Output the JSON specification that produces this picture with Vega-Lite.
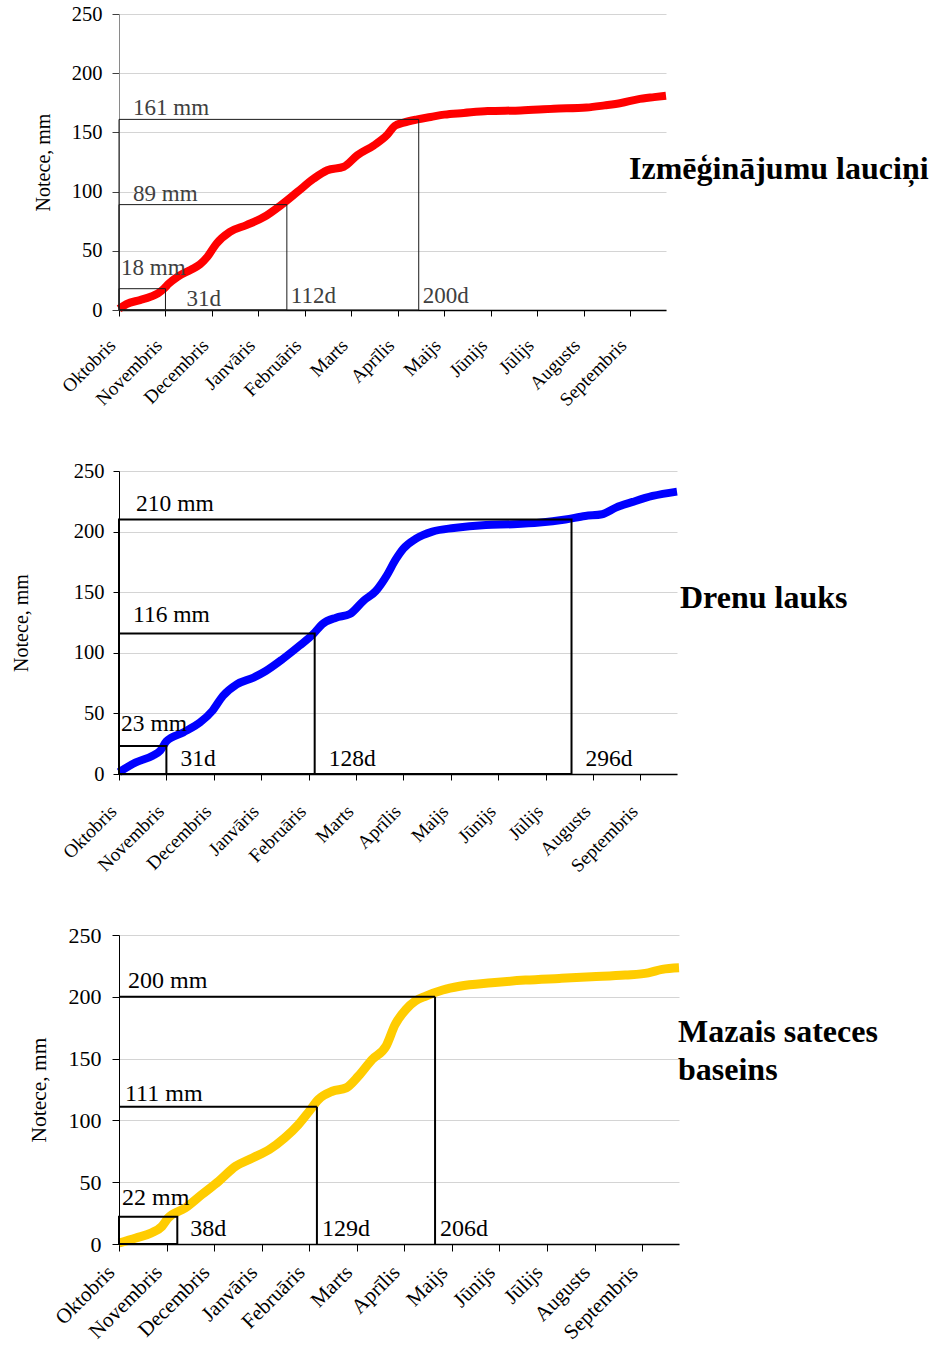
{
  "$schema": "https://vega.github.io/schema/vega-lite/v6.json",
  "background": "white",
  "padding": {"left": 11, "top": 4, "right": 0, "bottom": 0},
  "bounds": "flush",
  "spacing": 161,
  "datasets": {
    "lauc": [
      {"day": 0, "mm": 1}, {"day": 5, "mm": 5}, {"day": 14, "mm": 8.4}, {"day": 21, "mm": 11.2},
      {"day": 26, "mm": 14}, {"day": 30, "mm": 18}, {"day": 33, "mm": 22}, {"day": 39, "mm": 28},
      {"day": 48, "mm": 34}, {"day": 54, "mm": 38.5}, {"day": 59, "mm": 45}, {"day": 65, "mm": 56},
      {"day": 74, "mm": 66}, {"day": 85, "mm": 71.7}, {"day": 97, "mm": 78.7}, {"day": 108, "mm": 88.5},
      {"day": 119, "mm": 99.7}, {"day": 130, "mm": 111}, {"day": 139, "mm": 118}, {"day": 150, "mm": 121},
      {"day": 159, "mm": 130.7}, {"day": 170, "mm": 139}, {"day": 179, "mm": 148}, {"day": 184, "mm": 155.5},
      {"day": 190, "mm": 158.3}, {"day": 199, "mm": 161}, {"day": 208, "mm": 163}, {"day": 217, "mm": 165},
      {"day": 230, "mm": 166.4}, {"day": 246, "mm": 168}, {"day": 268, "mm": 168.6}, {"day": 290, "mm": 170},
      {"day": 312, "mm": 171}, {"day": 324, "mm": 172.8}, {"day": 335, "mm": 174.8}, {"day": 346, "mm": 177.9},
      {"day": 357, "mm": 179.8}, {"day": 365, "mm": 181}
    ],
    "dren": [
      {"day": 0, "mm": 1.5}, {"day": 11, "mm": 9.6}, {"day": 22, "mm": 15.1}, {"day": 27, "mm": 19.2},
      {"day": 31, "mm": 27}, {"day": 42, "mm": 34.3}, {"day": 53, "mm": 42.5}, {"day": 61, "mm": 52},
      {"day": 68, "mm": 64.5}, {"day": 77, "mm": 74}, {"day": 88, "mm": 79.6}, {"day": 96, "mm": 85},
      {"day": 107, "mm": 94.8}, {"day": 118, "mm": 105.8}, {"day": 127, "mm": 115.4}, {"day": 133, "mm": 123.7},
      {"day": 142, "mm": 129}, {"day": 151, "mm": 132}, {"day": 160, "mm": 143}, {"day": 168, "mm": 151},
      {"day": 175, "mm": 163.5}, {"day": 181, "mm": 177}, {"day": 186, "mm": 186}, {"day": 194, "mm": 194},
      {"day": 205, "mm": 200}, {"day": 219, "mm": 203}, {"day": 240, "mm": 205.5}, {"day": 258, "mm": 206.1},
      {"day": 275, "mm": 207.4}, {"day": 292, "mm": 210}, {"day": 305, "mm": 212.9}, {"day": 316, "mm": 214.3},
      {"day": 325, "mm": 219.8}, {"day": 336, "mm": 224.5}, {"day": 349, "mm": 229.4}, {"day": 365, "mm": 233}
    ],
    "bas": [
      {"day": 0, "mm": 0.8}, {"day": 11, "mm": 4.9}, {"day": 21, "mm": 8.9}, {"day": 28, "mm": 14.3},
      {"day": 32, "mm": 21}, {"day": 43, "mm": 29}, {"day": 54, "mm": 40}, {"day": 65, "mm": 50.8},
      {"day": 76, "mm": 62.9}, {"day": 87, "mm": 69.6}, {"day": 98, "mm": 76.4}, {"day": 108, "mm": 85.8},
      {"day": 117, "mm": 96.7}, {"day": 124, "mm": 107.4}, {"day": 130, "mm": 116.9}, {"day": 139, "mm": 123.6},
      {"day": 148, "mm": 126.3}, {"day": 156, "mm": 135.8}, {"day": 165, "mm": 149.3}, {"day": 174, "mm": 160},
      {"day": 180, "mm": 177.6}, {"day": 187, "mm": 189.8}, {"day": 193, "mm": 196.5}, {"day": 200, "mm": 200.6},
      {"day": 211, "mm": 205.5}, {"day": 222, "mm": 208.5}, {"day": 243, "mm": 211.3}, {"day": 265, "mm": 213.5},
      {"day": 287, "mm": 214.9}, {"day": 308, "mm": 216.2}, {"day": 330, "mm": 217.6}, {"day": 345, "mm": 219.4},
      {"day": 354, "mm": 222.2}, {"day": 365, "mm": 223.5}
    ],
    "laucLimits": [{"mm": 18, "day": 31}, {"mm": 89, "day": 112}, {"mm": 161, "day": 200}],
    "drenLimits": [{"mm": 23, "day": 31}, {"mm": 116, "day": 128}, {"mm": 210, "day": 296}],
    "basLimits": [{"mm": 22, "day": 38}, {"mm": 111, "day": 129}, {"mm": 200, "day": 206}]
  },
  "vconcat": [
    {
      "width": 547,
      "height": 296,
      "layer": [
        {
          "data": {"name": "lauc"},
          "mark": {"type": "line", "color": "#FF0000", "strokeWidth": 8, "interpolate": "monotone"},
          "encoding": {
            "x": {"field": "day", "type": "quantitative", "scale": {"domain": [0, 365], "nice": false},
              "axis": {"values": [0, 31, 62, 93, 124, 155, 186, 217, 248, 279, 310, 341],
                "labelExpr": "['Oktobris','Novembris','Decembris','Janvāris','Februāris','Marts','Aprīlis','Maijs','Jūnijs','Jūlijs','Augusts','Septembris'][round(datum.value/31)]",
                "labelAngle": -45, "labelAlign": "right", "labelBaseline": "middle", "labelFontSize": 19, "labelPadding": 26, "labelOffset": -7,
                "labelOverlap": false, "labelBound": false, "labelFlush": false, "tickSize": 6, "tickColor": "black",
                "domainColor": "black", "domainWidth": 1.5, "grid": false, "title": null}},
            "y": {"field": "mm", "type": "quantitative", "scale": {"domain": [0, 250], "nice": false},
              "axis": {"values": [0, 50, 100, 150, 200, 250], "title": "Notece, mm", "titleFontSize": 20, "titleFontWeight": "normal",
                "titlePadding": 18, "labelFontSize": 20.5, "labelPadding": 10, "tickSize": 7, "tickColor": "#404040",
                "domainColor": "#8a8a8a", "grid": true, "gridColor": "#d4d4d4"}}
          }
        },
        {
          "data": {"name": "laucLimits"},
          "mark": {"type": "rect", "fill": "white", "fillOpacity": 0, "stroke": "#1a1a1a", "strokeWidth": 1},
          "encoding": {"x": {"field": "day", "type": "quantitative"}, "x2": {"datum": 0}, "y": {"field": "mm", "type": "quantitative"}, "y2": {"datum": 0}}
        },
        {
          "data": {"name": "laucLimits"},
          "transform": [{"filter": "datum.mm > 50"}, {"calculate": "datum.mm + ' mm'", "as": "label"}],
          "mark": {"type": "text", "align": "left", "baseline": "alphabetic", "dx": 14, "dy": -4, "fontSize": 23, "color": "#404040"},
          "encoding": {"x": {"datum": 0, "type": "quantitative"}, "y": {"field": "mm", "type": "quantitative"}, "text": {"field": "label", "type": "nominal"}}
        },
        {
          "data": {"name": "laucLimits"},
          "transform": [{"filter": "datum.mm < 50"}, {"calculate": "datum.mm + ' mm'", "as": "label"}],
          "mark": {"type": "text", "align": "left", "baseline": "alphabetic", "dx": 2, "dy": -14, "fontSize": 23, "color": "#404040"},
          "encoding": {"x": {"datum": 0, "type": "quantitative"}, "y": {"field": "mm", "type": "quantitative"}, "text": {"field": "label", "type": "nominal"}}
        },
        {
          "data": {"name": "laucLimits"},
          "transform": [{"filter": "datum.day < 50"}, {"calculate": "datum.day + 'd'", "as": "label"}],
          "mark": {"type": "text", "align": "left", "baseline": "alphabetic", "dx": 21, "dy": -4, "fontSize": 23, "color": "#404040"},
          "encoding": {"x": {"field": "day", "type": "quantitative"}, "y": {"datum": 0, "type": "quantitative"}, "text": {"field": "label", "type": "nominal"}}
        },
        {
          "data": {"name": "laucLimits"},
          "transform": [{"filter": "datum.day > 50"}, {"calculate": "datum.day + 'd'", "as": "label"}],
          "mark": {"type": "text", "align": "left", "baseline": "alphabetic", "dx": 4, "dy": -7, "fontSize": 23, "color": "#404040"},
          "encoding": {"x": {"field": "day", "type": "quantitative"}, "y": {"datum": 0, "type": "quantitative"}, "text": {"field": "label", "type": "nominal"}}
        },
        {
          "data": {"values": [{"name": "Izmēģinājumu lauciņi"}]},
          "mark": {"type": "text", "align": "left", "baseline": "alphabetic", "dx": -37, "dy": 17, "fontSize": 32, "fontWeight": "bold", "color": "black"},
          "encoding": {"x": {"datum": 365, "type": "quantitative"}, "y": {"datum": 125, "type": "quantitative"}, "text": {"field": "name", "type": "nominal"}}
        }
      ]
    },
    {
      "width": 558,
      "height": 303,
      "layer": [
        {
          "data": {"name": "dren"},
          "mark": {"type": "line", "color": "#0000FF", "strokeWidth": 8, "interpolate": "monotone"},
          "encoding": {
            "x": {"field": "day", "type": "quantitative", "scale": {"domain": [0, 365], "nice": false},
              "axis": {"values": [0, 31, 62, 93, 124, 155, 186, 217, 248, 279, 310, 341],
                "labelExpr": "['Oktobris','Novembris','Decembris','Janvāris','Februāris','Marts','Aprīlis','Maijs','Jūnijs','Jūlijs','Augusts','Septembris'][round(datum.value/31)]",
                "labelAngle": -45, "labelAlign": "right", "labelBaseline": "middle", "labelFontSize": 19, "labelPadding": 28, "labelOffset": -6,
                "labelOverlap": false, "labelBound": false, "labelFlush": false, "tickSize": 6, "tickColor": "black",
                "domainColor": "black", "domainWidth": 1.5, "grid": false, "title": null}},
            "y": {"field": "mm", "type": "quantitative", "scale": {"domain": [0, 250], "nice": false},
              "axis": {"values": [0, 50, 100, 150, 200, 250], "title": "Notece, mm", "titleFontSize": 20, "titleFontWeight": "normal",
                "titlePadding": 42, "labelFontSize": 20.5, "labelPadding": 9, "tickSize": 6, "tickColor": "black",
                "domainColor": "black", "grid": true, "gridColor": "#d4d4d4"}}
          }
        },
        {
          "data": {"name": "drenLimits"},
          "mark": {"type": "rect", "fill": "white", "fillOpacity": 0, "stroke": "black", "strokeWidth": 2},
          "encoding": {"x": {"field": "day", "type": "quantitative"}, "x2": {"datum": 0}, "y": {"field": "mm", "type": "quantitative"}, "y2": {"datum": 0}}
        },
        {
          "data": {"name": "drenLimits"},
          "transform": [{"filter": "datum.mm == 210"}, {"calculate": "datum.mm + ' mm'", "as": "label"}],
          "mark": {"type": "text", "align": "left", "baseline": "alphabetic", "dx": 17, "dy": -8, "fontSize": 23.5, "color": "black"},
          "encoding": {"x": {"datum": 0, "type": "quantitative"}, "y": {"field": "mm", "type": "quantitative"}, "text": {"field": "label", "type": "nominal"}}
        },
        {
          "data": {"name": "drenLimits"},
          "transform": [{"filter": "datum.mm == 116"}, {"calculate": "datum.mm + ' mm'", "as": "label"}],
          "mark": {"type": "text", "align": "left", "baseline": "alphabetic", "dx": 14, "dy": -11, "fontSize": 23.5, "color": "black"},
          "encoding": {"x": {"datum": 0, "type": "quantitative"}, "y": {"field": "mm", "type": "quantitative"}, "text": {"field": "label", "type": "nominal"}}
        },
        {
          "data": {"name": "drenLimits"},
          "transform": [{"filter": "datum.mm == 23"}, {"calculate": "datum.mm + ' mm'", "as": "label"}],
          "mark": {"type": "text", "align": "left", "baseline": "alphabetic", "dx": 2, "dy": -15, "fontSize": 23.5, "color": "black"},
          "encoding": {"x": {"datum": 0, "type": "quantitative"}, "y": {"field": "mm", "type": "quantitative"}, "text": {"field": "label", "type": "nominal"}}
        },
        {
          "data": {"name": "drenLimits"},
          "transform": [{"calculate": "datum.day + 'd'", "as": "label"}],
          "mark": {"type": "text", "align": "left", "baseline": "alphabetic", "dx": 14, "dy": -8, "fontSize": 23.5, "color": "black"},
          "encoding": {"x": {"field": "day", "type": "quantitative"}, "y": {"datum": 0, "type": "quantitative"}, "text": {"field": "label", "type": "nominal"}}
        },
        {
          "data": {"values": [{"name": "Drenu lauks"}]},
          "mark": {"type": "text", "align": "left", "baseline": "alphabetic", "dx": 3, "dy": -15, "fontSize": 32, "fontWeight": "bold", "color": "black"},
          "encoding": {"x": {"datum": 365, "type": "quantitative"}, "y": {"datum": 125, "type": "quantitative"}, "text": {"field": "name", "type": "nominal"}}
        }
      ]
    },
    {
      "width": 560,
      "height": 309,
      "layer": [
        {
          "data": {"name": "bas"},
          "mark": {"type": "line", "color": "#FFCC00", "strokeWidth": 9, "interpolate": "monotone"},
          "encoding": {
            "x": {"field": "day", "type": "quantitative", "scale": {"domain": [0, 365], "nice": false},
              "axis": {"values": [0, 31, 62, 93, 124, 155, 186, 217, 248, 279, 310, 341],
                "labelExpr": "['Oktobris','Novembris','Decembris','Janvāris','Februāris','Marts','Aprīlis','Maijs','Jūnijs','Jūlijs','Augusts','Septembris'][round(datum.value/31)]",
                "labelAngle": -45, "labelAlign": "right", "labelBaseline": "middle", "labelFontSize": 21, "labelPadding": 18, "labelOffset": -8,
                "labelOverlap": false, "labelBound": false, "labelFlush": false, "tickSize": 7, "tickColor": "black",
                "domainColor": "black", "domainWidth": 1.5, "grid": false, "title": null}},
            "y": {"field": "mm", "type": "quantitative", "scale": {"domain": [0, 250], "nice": false},
              "axis": {"values": [0, 50, 100, 150, 200, 250], "title": "Notece, mm", "titleFontSize": 21.5, "titleFontWeight": "normal",
                "titlePadding": 18, "labelFontSize": 22, "labelPadding": 11, "tickSize": 7, "tickColor": "black",
                "domainColor": "black", "grid": true, "gridColor": "#d4d4d4"}}
          }
        },
        {
          "data": {"name": "basLimits"},
          "transform": [{"filter": "datum.mm < 50"}],
          "mark": {"type": "rect", "fill": "white", "fillOpacity": 0, "stroke": "black", "strokeWidth": 2},
          "encoding": {"x": {"field": "day", "type": "quantitative"}, "x2": {"datum": 0}, "y": {"field": "mm", "type": "quantitative"}, "y2": {"datum": 0}}
        },
        {
          "data": {"name": "basLimits"},
          "transform": [{"filter": "datum.mm > 50"}],
          "mark": {"type": "rule", "stroke": "black", "strokeWidth": 2},
          "encoding": {"x": {"field": "day", "type": "quantitative"}, "x2": {"datum": 0}, "y": {"field": "mm", "type": "quantitative"}}
        },
        {
          "data": {"name": "basLimits"},
          "transform": [{"filter": "datum.mm > 50"}],
          "mark": {"type": "rule", "stroke": "black", "strokeWidth": 2},
          "encoding": {"x": {"field": "day", "type": "quantitative"}, "y": {"field": "mm", "type": "quantitative"}, "y2": {"datum": 0}}
        },
        {
          "data": {"name": "basLimits"},
          "transform": [{"filter": "datum.mm == 200"}, {"calculate": "datum.mm + ' mm'", "as": "label"}],
          "mark": {"type": "text", "align": "left", "baseline": "alphabetic", "dx": 9, "dy": -9, "fontSize": 24, "color": "black"},
          "encoding": {"x": {"datum": 0, "type": "quantitative"}, "y": {"field": "mm", "type": "quantitative"}, "text": {"field": "label", "type": "nominal"}}
        },
        {
          "data": {"name": "basLimits"},
          "transform": [{"filter": "datum.mm == 111"}, {"calculate": "datum.mm + ' mm'", "as": "label"}],
          "mark": {"type": "text", "align": "left", "baseline": "alphabetic", "dx": 6, "dy": -6, "fontSize": 24, "color": "black"},
          "encoding": {"x": {"datum": 0, "type": "quantitative"}, "y": {"field": "mm", "type": "quantitative"}, "text": {"field": "label", "type": "nominal"}}
        },
        {
          "data": {"name": "basLimits"},
          "transform": [{"filter": "datum.mm == 22"}, {"calculate": "datum.mm + ' mm'", "as": "label"}],
          "mark": {"type": "text", "align": "left", "baseline": "alphabetic", "dx": 3, "dy": -12, "fontSize": 24, "color": "black"},
          "encoding": {"x": {"datum": 0, "type": "quantitative"}, "y": {"field": "mm", "type": "quantitative"}, "text": {"field": "label", "type": "nominal"}}
        },
        {
          "data": {"name": "basLimits"},
          "transform": [{"filter": "datum.day < 50"}, {"calculate": "datum.day + 'd'", "as": "label"}],
          "mark": {"type": "text", "align": "left", "baseline": "alphabetic", "dx": 13, "dy": -8, "fontSize": 24, "color": "black"},
          "encoding": {"x": {"field": "day", "type": "quantitative"}, "y": {"datum": 0, "type": "quantitative"}, "text": {"field": "label", "type": "nominal"}}
        },
        {
          "data": {"name": "basLimits"},
          "transform": [{"filter": "datum.day > 50"}, {"calculate": "datum.day + 'd'", "as": "label"}],
          "mark": {"type": "text", "align": "left", "baseline": "alphabetic", "dx": 5, "dy": -8, "fontSize": 24, "color": "black"},
          "encoding": {"x": {"field": "day", "type": "quantitative"}, "y": {"datum": 0, "type": "quantitative"}, "text": {"field": "label", "type": "nominal"}}
        },
        {
          "data": {"values": [{"name": "Mazais sateces"}, {"name": "baseins"}]},
          "transform": [{"filter": "datum.name == 'Mazais sateces'"}],
          "mark": {"type": "text", "align": "left", "baseline": "alphabetic", "dx": -1, "dy": -48, "fontSize": 32, "fontWeight": "bold", "color": "black"},
          "encoding": {"x": {"datum": 365, "type": "quantitative"}, "y": {"datum": 125, "type": "quantitative"}, "text": {"field": "name", "type": "nominal"}}
        },
        {
          "data": {"values": [{"name": "Mazais sateces"}, {"name": "baseins"}]},
          "transform": [{"filter": "datum.name == 'baseins'"}],
          "mark": {"type": "text", "align": "left", "baseline": "alphabetic", "dx": -1, "dy": -10, "fontSize": 32, "fontWeight": "bold", "color": "black"},
          "encoding": {"x": {"datum": 365, "type": "quantitative"}, "y": {"datum": 125, "type": "quantitative"}, "text": {"field": "name", "type": "nominal"}}
        }
      ]
    }
  ],
  "config": {
    "font": "Liberation Serif",
    "view": {"stroke": null},
    "axis": {"labelColor": "black", "titleColor": "black", "labelFont": "Liberation Serif", "titleFont": "Liberation Serif"},
    "text": {"font": "Liberation Serif"}
  }
}
